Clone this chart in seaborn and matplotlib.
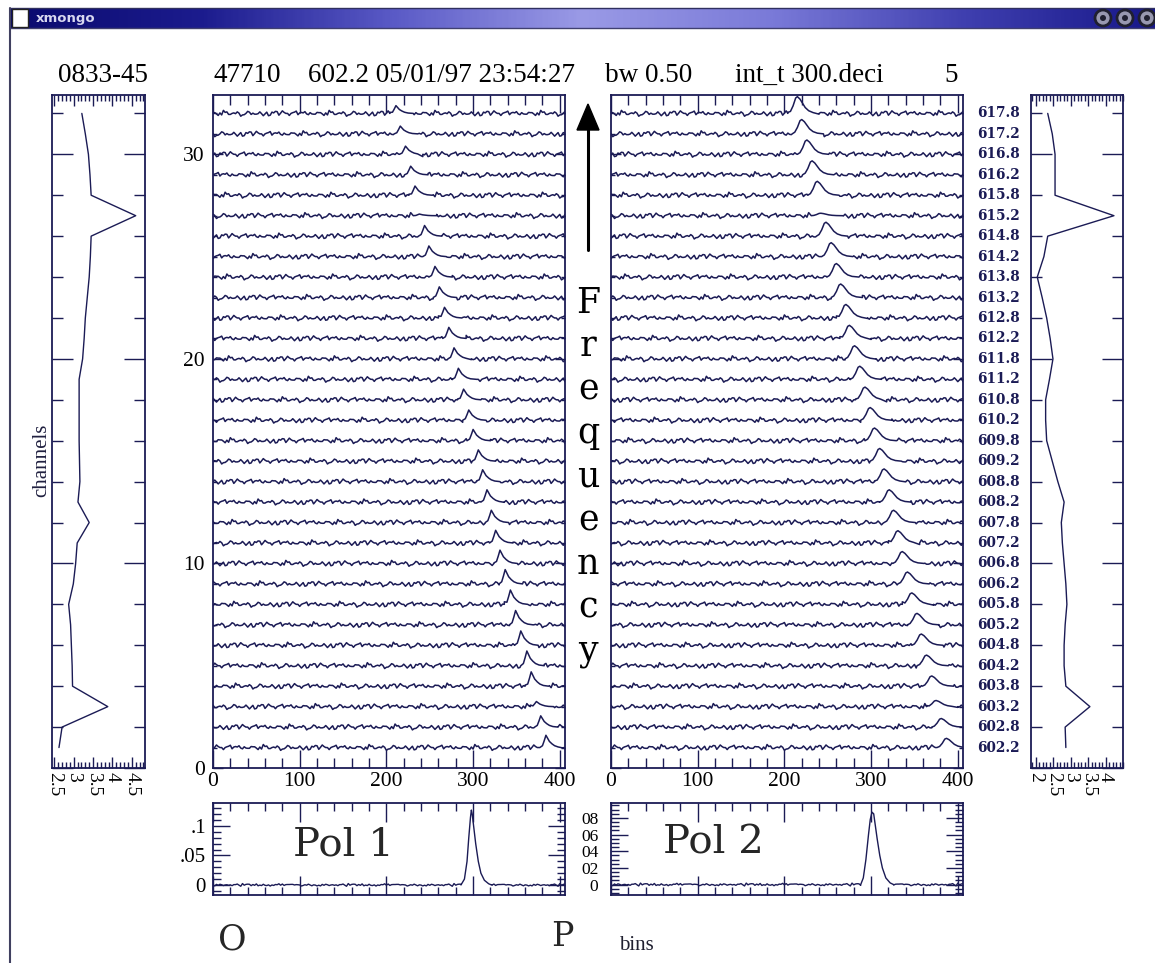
import numpy as np
import pandas as pd
import matplotlib
matplotlib.use("Agg")
import matplotlib.pyplot as plt
import seaborn as sns
from matplotlib.colors import LinearSegmentedColormap
from matplotlib.patches import Rectangle, Circle, Polygon
from matplotlib.ticker import MultipleLocator, FixedLocator
from matplotlib.transforms import blended_transform_factory

# ------------------------------------------------------------------ data
channel_index = list(range(32, 0, -1))          # row order, top row = channel 32
freq_labels = ["617.8", "617.2", "616.8", "616.2", "615.8", "615.2", "614.8", "614.2",
               "613.8", "613.2", "612.8", "612.2", "611.8", "611.2", "610.8", "610.2",
               "609.8", "609.2", "608.8", "608.2", "607.8", "607.2", "606.8", "606.2",
               "605.8", "605.2", "604.8", "604.2", "603.8", "603.2", "602.8", "602.2"]

pol1_peak_bin = [211, 216, 222, 228, 233, 238, 244, 249, 256, 261, 267, 272, 278, 283, 289, 295,
                 300, 306, 311, 316, 321, 326, 331, 337, 343, 349, 355, 362, 367, 373, 378, 384]
pol1_peak_height = [0.38, 0.38, 0.40, 0.42, 0.45, 0.08, 0.52, 0.52, 0.52, 0.52, 0.52, 0.54, 0.54, 0.54, 0.52, 0.50,
                    0.55, 0.55, 0.58, 0.60, 0.60, 0.62, 0.65, 0.70, 0.70, 0.70, 0.70, 0.72, 0.70, 0.25, 0.55, 0.60]
pol2_peak_bin = [214, 219, 225, 231, 237, 241, 247, 253, 259, 264, 270, 274, 280, 286, 292, 298,
                 303, 309, 314, 320, 325, 330, 335, 341, 346, 352, 357, 363, 369, 374, 380, 386]
pol2_peak_height = [0.82, 0.70, 0.70, 0.68, 0.68, 0.12, 0.68, 0.68, 0.66, 0.66, 0.66, 0.64, 0.64, 0.64, 0.62, 0.62,
                    0.62, 0.62, 0.62, 0.60, 0.60, 0.60, 0.58, 0.58, 0.56, 0.56, 0.55, 0.52, 0.50, 0.30, 0.42, 0.45]

pulse1_offset = [-7, -4, -2, 0, 2, 4, 7, 10, 14, 20]
pulse1_shape = [0, 0.15, 0.55, 1.0, 0.75, 0.5, 0.3, 0.15, 0.05, 0]
pulse2_offset = [-10, -7, -4, -1, 1, 4, 7, 10, 14, 19, 26]
pulse2_shape = [0, 0.12, 0.45, 0.92, 1.0, 0.85, 0.6, 0.35, 0.16, 0.05, 0]

noise_pattern = [0.03, -0.05, 0.08, -0.02, 0.00, -0.09, 0.05, 0.02, -0.04, 0.10,
                 -0.03, 0.01, -0.07, 0.04, 0.06, -0.01, -0.08, 0.03, 0.00, 0.07,
                 -0.05, 0.02, -0.02, 0.09, -0.06, 0.01, 0.04, -0.03, -0.11, 0.05,
                 0.02, -0.04, 0.06, 0.00, -0.02, 0.08, -0.07, 0.03, -0.01, 0.05,
                 -0.05, 0.12, -0.03, 0.00, 0.04, -0.06, 0.02, 0.07, -0.04, -0.01,
                 0.03, -0.08, 0.05, 0.01, -0.02, 0.06, -0.09, 0.02, 0.04, -0.03, 0.00]

rms_channels = list(range(1, 33))
rms_pol1 = [2.62, 2.70, 3.88, 2.97, 2.96, 2.94, 2.92, 2.87, 2.99, 3.05, 3.09, 3.40, 3.11, 3.16, 3.15, 3.14,
            3.14, 3.14, 3.14, 3.23, 3.27, 3.30, 3.35, 3.40, 3.43, 3.45, 4.60, 3.45, 3.42, 3.38, 3.30, 3.21]
rms_pol2 = [2.86, 2.84, 3.55, 2.86, 2.81, 2.81, 2.84, 2.89, 2.86, 2.81, 2.76, 2.73, 2.81, 2.63, 2.47, 2.31,
            2.28, 2.28, 2.39, 2.49, 2.41, 2.31, 2.18, 2.04, 2.23, 2.34, 4.24, 2.55, 2.55, 2.55, 2.47, 2.34]

prof1_bin = [286, 290, 293, 295, 297, 298, 299, 301, 303, 306, 309, 313, 318, 322]
prof1_val = [0, 0.01, 0.04, 0.08, 0.115, 0.127, 0.12, 0.095, 0.07, 0.04, 0.02, 0.008, 0.002, 0]
prof2_bin = [288, 291, 294, 297, 299, 301, 303, 305, 307, 310, 313, 317, 322, 326]
prof2_val = [0, 0.008, 0.03, 0.06, 0.078, 0.087, 0.085, 0.07, 0.055, 0.035, 0.02, 0.008, 0.002, 0]

bin_ticks = [0, 100, 200, 300, 400]
channel_ticks = [0, 10, 20, 30]
rms1_ticks = [2.5, 3, 3.5, 4, 4.5]
rms2_ticks = [2, 2.5, 3, 3.5, 4]
prof1_ticks = [0, 0.05, 0.1]
prof1_ticklabels = ["0", ".05", ".1"]
prof2_ticks = [0, 0.02, 0.04, 0.06, 0.08]
prof2_ticklabels = ["0", "02", "04", "06", "08"]

header_source = "0833-45"
header_parts = ["47710", "602.2 05/01/97 23:54:27", "bw 0.50", "int_t 300.deci", "5"]

# ------------------------------------------------------------------ style
W, H = 1155, 963
INK = "#1b1b55"
NOISE_AMP = 1.25
sns.set_style("white")
plt.rcParams["font.family"] = ["Liberation Serif", "DejaVu Serif"]
plt.rcParams["axes.linewidth"] = 1.3

fig = plt.figure(figsize=(W / 100, H / 100), dpi=100)
fig.patch.set_facecolor("white")


def add_ax(l, t, r, b):
    ax = fig.add_axes([l / W, 1 - b / H, (r - l) / W, (b - t) / H])
    ax.set_facecolor("none")
    for s in ax.spines.values():
        s.set_visible(True)
        s.set_color(INK)
        s.set_linewidth(1.3)
    ax.tick_params(which="both", direction="in", top=True, bottom=True,
                   left=True, right=True, color=INK, width=1.0, labelcolor="black")
    return ax


def trace_frame(peaks, heights, offs, shape):
    recs = []
    n = len(noise_pattern)
    for r, (ch, pk, h) in enumerate(zip(channel_index, peaks, heights)):
        lo, hi = pk + offs[0], pk + offs[-1]
        for j, b in enumerate(range(0, 407, 2)):
            if lo < b < hi:
                continue
            recs.append((ch, b, ch + NOISE_AMP * noise_pattern[(j * 17 + r * 11) % n]))
        for o, s in zip(offs, shape):
            recs.append((ch, pk + o, ch + h * s))
    df = pd.DataFrame(recs, columns=["channel", "bin", "level"])
    return df.sort_values(["channel", "bin"])


def profile_frame(pbins, pvals, scale):
    recs = []
    n = len(noise_pattern)
    lo, hi = pbins[0], pbins[-1]
    for j, b in enumerate(range(0, 407, 2)):
        if lo < b < hi:
            continue
        recs.append((b, scale * noise_pattern[(j * 13 + 3) % n]))
    for b, v in zip(pbins, pvals):
        recs.append((b, v))
    df = pd.DataFrame(recs, columns=["bin", "amp"])
    return df.sort_values("bin")


# ------------------------------------------------------------------ main waterfall panels
main_specs = [
    ((213, 95, 565, 768), pol1_peak_bin, pol1_peak_height, pulse1_offset, pulse1_shape, True),
    ((611, 95, 963, 768), pol2_peak_bin, pol2_peak_height, pulse2_offset, pulse2_shape, False),
]
main_axes = []
for box, pk, ht, offs, shp, ylab in main_specs:
    ax = add_ax(*box)
    df = trace_frame(pk, ht, offs, shp)
    sns.lineplot(data=df, x="bin", y="level", units="channel", estimator=None,
                 color=INK, lw=1.1, ax=ax, legend=False)
    ax.set_xlim(0, 406)
    ax.set_ylim(0, 32.9)
    ax.xaxis.set_major_locator(FixedLocator(bin_ticks))
    ax.xaxis.set_minor_locator(MultipleLocator(20))
    ax.yaxis.set_major_locator(FixedLocator(channel_ticks))
    ax.yaxis.set_minor_locator(MultipleLocator(1))
    ax.tick_params(axis="x", which="major", length=13)
    ax.tick_params(axis="x", which="minor", length=7)
    ax.tick_params(axis="y", which="major", length=7)
    ax.tick_params(axis="y", which="minor", length=3)
    ax.set_xticklabels([str(t) for t in bin_ticks], fontsize=15.5)
    ax.tick_params(axis="x", pad=3)
    if ylab:
        ax.set_yticklabels([str(t) for t in channel_ticks], fontsize=15.5)
        ax.tick_params(axis="y", pad=6)
    else:
        ax.tick_params(axis="y", labelleft=False)
    ax.set_xlabel("")
    ax.set_ylabel("")
    main_axes.append(ax)

# frequency labels to the right of Pol 2
tr = blended_transform_factory(main_axes[1].transAxes, main_axes[1].transData)
for ch, lab in zip(channel_index, freq_labels):
    main_axes[1].text(1.04, ch, lab, transform=tr, ha="left", va="center",
                      fontsize=9.8, fontweight="bold", family="DejaVu Serif", color=INK)

# ------------------------------------------------------------------ side rms panels
side_specs = [
    ((52, 95, 145, 768), rms_pol1, (2.44, 4.84), rms1_ticks),
    ((1031, 95, 1123, 768), rms_pol2, (1.86, 4.50), rms2_ticks),
]
for box, vals, xl, ticks in side_specs:
    ax = add_ax(*box)
    sns.lineplot(x=vals, y=rms_channels, sort=False, estimator=None,
                 color=INK, lw=1.0, ax=ax)
    ax.set_xlim(*xl)
    ax.set_ylim(0, 32.9)
    ax.xaxis.set_major_locator(FixedLocator(ticks))
    ax.xaxis.set_minor_locator(MultipleLocator(0.1))
    ax.yaxis.set_major_locator(FixedLocator(channel_ticks))
    ax.yaxis.set_minor_locator(MultipleLocator(2))
    ax.tick_params(axis="x", which="major", length=8)
    ax.tick_params(axis="x", which="minor", length=4.5)
    ax.tick_params(axis="y", which="major", length=15)
    ax.tick_params(axis="y", which="minor", length=8)
    ax.set_xticklabels([f"{t:g}" for t in ticks], rotation=-90, fontsize=14)
    ax.tick_params(axis="x", pad=3)
    ax.tick_params(axis="y", labelleft=False)
    ax.set_xlabel("")
    ax.set_ylabel("")

# ------------------------------------------------------------------ integrated profiles
prof_specs = [
    ((213, 803, 565, 895), prof1_bin, prof1_val, 0.02, (-0.017, 0.139), prof1_ticks, prof1_ticklabels, 0.01, 5, 15),
    ((611, 803, 963, 895), prof2_bin, prof2_val, 0.015, (-0.0125, 0.098), prof2_ticks, prof2_ticklabels, 0.005, 9, 12.5),
]
for box, pb, pv, sc, yl, yt, ytl, ymin, ypad, yfs in prof_specs:
    ax = add_ax(*box)
    df = profile_frame(pb, pv, sc)
    sns.lineplot(data=df, x="bin", y="amp", sort=False, estimator=None,
                 color=INK, lw=1.0, ax=ax)
    ax.set_xlim(0, 406)
    ax.set_ylim(*yl)
    ax.xaxis.set_major_locator(FixedLocator(bin_ticks))
    ax.xaxis.set_minor_locator(MultipleLocator(20))
    ax.yaxis.set_major_locator(FixedLocator(yt))
    ax.yaxis.set_minor_locator(MultipleLocator(ymin))
    ax.tick_params(axis="x", which="major", length=14)
    ax.tick_params(axis="x", which="minor", length=6)
    ax.tick_params(axis="y", which="major", length=12)
    ax.tick_params(axis="y", which="minor", length=6)
    ax.tick_params(axis="x", labelbottom=False)
    ax.set_yticklabels(ytl, fontsize=yfs)
    ax.tick_params(axis="y", pad=ypad)
    ax.set_xlabel("")
    ax.set_ylabel("")

# ------------------------------------------------------------------ overlay: window chrome and annotations
ov = fig.add_axes([0, 0, 1, 1], zorder=20)
ov.patch.set_alpha(0)
ov.axis("off")

bar_cmap = LinearSegmentedColormap.from_list(
    "bar", ["#0a0a6e", "#1c1c8e", "#5a5ac6", "#9a9ae6", "#7a7ad8", "#4040b0", "#18188a"])
ov.imshow(np.linspace(0, 1, 400)[None, :], cmap=bar_cmap, extent=[10, W, 28, 8],
          aspect="auto", zorder=1)
ov.plot([10, W], [8, 8], color="#303060", lw=1.0, zorder=2)
ov.plot([10, W], [28.5, 28.5], color="#404070", lw=1.0, zorder=2)
ov.plot([10, 10], [8, H], color="#404060", lw=1.5, zorder=2)
ov.add_patch(Rectangle((12, 9.5), 16, 17.5, facecolor="white", edgecolor="#222222", lw=1, zorder=3))
ov.text(36, 18.5, "xmongo", fontsize=9.5, fontweight="bold", family="DejaVu Sans",
        color="#d8d8f0", va="center", ha="left", zorder=4)
for cx in (1103, 1125, 1147):
    ov.add_patch(Circle((cx, 18), 8, facecolor="#9898b0", edgecolor="#202030", lw=2, zorder=3))
    ov.add_patch(Circle((cx, 18), 3, facecolor="#202030", edgecolor="none", zorder=4))

hdr = dict(fontsize=19.5, va="baseline", ha="left", color="black")
ov.text(58, 82, header_source, **hdr)
for x0, txt in zip([214, 308, 605, 735, 944], header_parts):
    ov.text(x0, 82, txt, **hdr)

# Frequency arrow and vertical word
ov.plot([588, 588], [128, 250], color="black", lw=2.2, zorder=5)
ov.add_patch(Polygon([[577, 130], [599, 130], [588, 104]], closed=True,
                     facecolor="black", edgecolor="black", zorder=5))
ov.text(588, 477, "\n".join("Frequency"), fontsize=25, family="DejaVu Serif",
        ha="center", va="center", multialignment="center", linespacing=1.35, color="black")

ov.text(42, 460, "channels", fontsize=15, rotation=90, ha="center", va="center", color="#202040")
ov.text(293, 855, "Pol 1", fontsize=29, family="DejaVu Serif", ha="left", va="baseline")
ov.text(663, 853, "Pol 2", fontsize=29, family="DejaVu Serif", ha="left", va="baseline")
ov.text(218, 950, "O", fontsize=25, family="DejaVu Serif", ha="left", va="baseline")
ov.text(551, 946, "P", fontsize=24, family="DejaVu Serif", ha="left", va="baseline")
ov.text(619, 950, "bins", fontsize=15, ha="left", va="baseline", color="#202030")

ov.set_xlim(0, W)
ov.set_ylim(H, 0)

fig.savefig("out.png", dpi=100, facecolor="white")
